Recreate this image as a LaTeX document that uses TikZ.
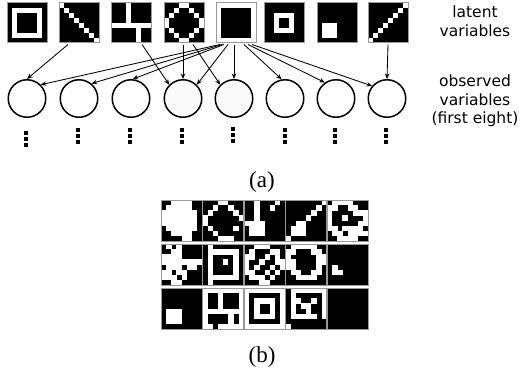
\documentclass[tikz,border=0pt]{standalone}
\usepackage{fontspec}
\setmainfont{Liberation Serif}
\newfontfamily\labfont{DejaVu Sans}
\usetikzlibrary{arrows.meta}
\tikzset{
  latimg/.style={fill=black, minimum size=40pt, inner sep=0pt, outer sep=0pt},
  cellimg/.style={fill=black, minimum width=40.8pt, minimum height=41.2pt, inner sep=0pt, outer sep=0pt},
  imgframe/.style={draw=black!40, line width=0.45pt},
  obs/.style={circle, draw=black, line width=1.5pt, minimum size=37.5pt, inner sep=0pt},
  obsg/.style={obs, fill=black!2},
  arr/.style={-{Stealth[length=5.5pt,width=4.5pt]}, line width=0.85pt},
  sidelbl/.style={font=\labfont\fontsize{15.5}{18.5}\selectfont, align=center},
  caplbl/.style={font=\fontsize{23}{26}\selectfont},
}
% white pixels: #1 x0, #2 y0, #3 pixel size, #4 list row/{cols}
\newcommand{\pximg}[4]{%
  \foreach \rr/\cc in {#4} {\foreach \kk in \cc {%
    \fill[white] ({#1+\kk*#3},{#2+\rr*#3}) rectangle ++({#3+0.2},{#3+0.2});}}}
\newcommand{\dotcol}[2]{%
  \foreach \dd in {-6,0,6} {\fill[black] ({#1-1.75},{#2+\dd-1.75}) rectangle ++(3.5,3.5);}}
\begin{document}
\begin{tikzpicture}[x=1pt,y=-1pt]
\fill[white] (0,0) rectangle (522,375);
\useasboundingbox (0,0) rectangle (522,375);

% ---------- latent images ----------
\foreach \i/\x in {1/27,2/79,3/131,4/184,5/236,6/284,7/337,8/388}
  {\node[latimg] (l\i) at (\x,22.5) {};}
\pximg{7}{2.5}{5}{1/{1,2,3,4,5,6},2/{1,6},3/{1,6},4/{1,6},5/{1,6},6/{1,2,3,4,5,6}}
\pximg{59}{2.5}{5}{0/{0},1/{1},2/{2},3/{3},4/{4},5/{5},6/{6},7/{7}}
\pximg{111}{2.5}{5}{0/{3},1/{3},2/{3},3/{3},4/{0,1,2,3,4,5,6,7},5/{5},6/{5},7/{5}}
\pximg{164}{2.5}{5}{0/{3,4},1/{2,5},2/{1,6},3/{0,7},4/{0,7},5/{1,6},6/{2,5},7/{3,4}}
\pximg{216}{2.5}{5}{0/{0,1,2,3,4,5,6,7},1/{0,7},2/{0,7},3/{0,7},4/{0,7},5/{0,7},6/{0,7},7/{0,1,2,3,4,5,6,7}}
\pximg{264}{2.5}{5}{2/{2,3,4,5},3/{2,5},4/{2,5},5/{2,3,4,5}}
\pximg{317}{2.5}{5}{4/{1,2,3},5/{1,2,3},6/{1,2,3}}
\pximg{368}{2.5}{5}{0/{7},1/{6},2/{5},3/{4},4/{3},5/{2},6/{1},7/{0}}
\foreach \i in {1,...,8}
  {\draw[imgframe] (l\i.north west) rectangle (l\i.south east);}

% ---------- observed variables ----------
\foreach \i/\x in {1/27,2/79,3/131,6/285,7/336,8/387}
  {\node[obs] (c\i) at (\x,98.5) {};}
\node[obsg] (c4) at (183,98.5) {};
\node[obsg] (c5) at (234,98.5) {};

\foreach \x/\y in {26/139,78/136,130/136,182/136,233/135,285/136,335/136,386/136}
  {\dotcol{\x}{\y}}

% ---------- arrows ----------
\draw[arr] ([xshift=-11pt,yshift=-2pt]l2.south) -- (c1.north);
\draw[arr] ([xshift=11pt,yshift=-2pt]l3.south) -- (c4.135);
\draw[arr] ([xshift=-1pt,yshift=-2pt]l4.south) -- (c4.north);
\draw[arr] ([xshift=9pt,yshift=-2pt]l4.south) -- (c5.135);
\draw[arr] ([xshift=-16pt,yshift=-2pt]l5.south) -- (c1.45);
\draw[arr] ([xshift=-14pt,yshift=-2pt]l5.south) -- (c2.50);
\draw[arr] ([xshift=-12pt,yshift=-2pt]l5.south) -- (c3.85);
\draw[arr] ([xshift=-8pt,yshift=-2pt]l5.south) -- (c4.45);
\draw[arr] ([xshift=-2pt,yshift=-2pt]l5.south) -- (c5.north);
\draw[arr] ([xshift=8pt,yshift=-2pt]l5.south) -- (c6.100);
\draw[arr] ([xshift=12pt,yshift=-2pt]l5.south) -- (c7.125);
\draw[arr] ([xshift=16pt,yshift=-2pt]l5.south) -- (c8.140);
\draw[arr] ([yshift=-2pt]l8.south) -- (c8.north);

% ---------- side labels ----------
\node[sidelbl] (latlbl) at (475,21) {latent\\variables};
\node[sidelbl] (obslbl) at (475,101) {observed\\variables\\(first eight)};
\node[caplbl] (capa) at (262,182) {(a)};

% ---------- samples (b) ----------
\foreach \r in {1,2,3} {\foreach \c in {1,...,5}
  {\node[cellimg] (b\r\c) at ({161+41.5*(\c-1)+20.4},{200+44*(\r-1)+20.6}) {};}}
% row 1
\pximg{161}{200}{5.15}{0/{2,3,4,5},1/{1,2,3,4,5},2/{0,1,2,3,4,5,6},3/{0,1,2,3,4,5,6},4/{0,1,2,3,4,5,6},5/{1,2,3,4,5,6},6/{2,3,4,5},7/{4,5}}
\pximg{202.5}{200}{5.15}{0/{3,4},1/{2,5},2/{1,6},3/{0,7},4/{0},5/{1,6},6/{2},7/{3,4,5}}
\pximg{244}{200}{5.15}{0/{2,6},1/{2,5},2/{2},3/{2},4/{0,1,2,3},5/{1,2,3},6/{1,2,3}}
\pximg{285.5}{200}{5.15}{0/{7},1/{6},2/{5},3/{4},4/{2,3},5/{1,2,3},6/{1,2,3},7/{0}}
\pximg{327}{200}{5.15}{0/{1,2,3,4},1/{0,1,4,5},2/{0,5,6,7},3/{0,3,7},4/{0,6,7},5/{0,1,3,4,5,6},6/{1,2,4,5,6,7},7/{2,3,4,5}}
% row 2
\pximg{161}{244}{5.15}{0/{1,3},1/{2,3},2/{0,1,2,3},3/{0,1,2,3,4,5,6,7},4/{1,2,3,5,6},5/{0,1,3,4},6/{0,1,2,4},7/{2,3}}
\pximg{202.5}{244}{5.15}{0/{1},1/{1,2,3,4,5,6},2/{1,6},3/{1,4,6},4/{1,6},5/{1,6},6/{1,2,3,4,5,6},7/{1}}
\pximg{244}{244}{5.15}{0/{2,3,4},1/{1,5,6},2/{0,1,4,6},3/{0,3,6,7},4/{0,2,5,7},5/{0,1,4,6},6/{1,2,3,5},7/{3,4}}
\pximg{285.5}{244}{5.15}{0/{1,2,3,4,5},1/{0,1,5,6},2/{0,6,7},3/{0,1,6,7},4/{0,1,6},5/{1,2,5,6},6/{2,3,4,5}}
\pximg{327}{244}{5.15}{4/{1},5/{1,2}}
% row 3
\pximg{161}{288}{5.15}{4/{1,2,3},5/{1,2,3},6/{1,2,3}}
\pximg{202.5}{288}{5.15}{0/{0,1,2,3,4,5,6,7},1/{0,3,7},2/{0,3,7},3/{0,3,7},4/{0,1,2,3,4,5,6,7},5/{0,5,7},6/{0,5,7},7/{0,1,3,4,5,6,7}}
\pximg{244}{288}{5.15}{0/{0,1,2,3,4,5,6,7},1/{0,7},2/{0,2,3,4,5,7},3/{0,2,5,7},4/{0,2,5,7},5/{0,2,3,4,5,7},6/{0,7},7/{0,1,2,3,4,5,6,7}}
\pximg{285.5}{288}{5.15}{0/{1,2,3,4,5,6,7},1/{1,7},2/{1,2,5,7},3/{1,3,4,7},4/{1,4,7},5/{1,2,3,4,5,7},7/{0}}
\foreach \r in {1,2,3} {\foreach \c in {1,...,5}
  {\draw[imgframe] (b\r\c.north west) rectangle (b\r\c.south east);}}
\node[caplbl] (capb) at (262,357) {(b)};
\end{tikzpicture}
\end{document}
